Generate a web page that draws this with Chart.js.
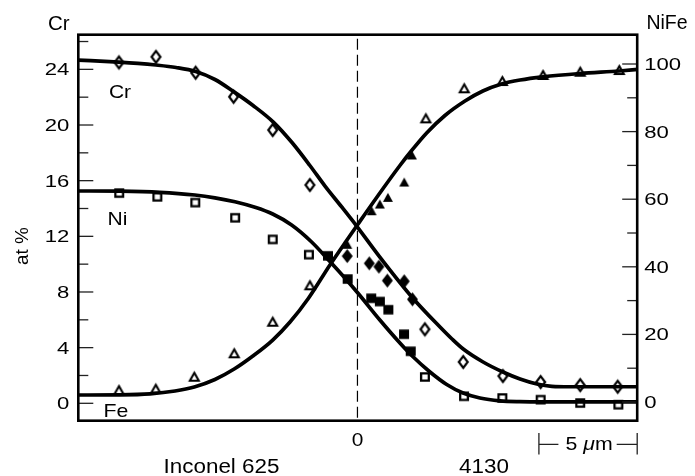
<!DOCTYPE html>
<html>
<head>
<meta charset="utf-8">
<script src="https://cdn.jsdelivr.net/npm/chart.js@4/dist/chart.umd.min.js"></script>
<style>
  html, body { margin: 0; padding: 0; background: #fff; }
  #wrap { width: 695px; height: 476px; }
</style>
</head>
<body>
<div id="wrap"><canvas id="c" width="695" height="476"></canvas></div>
<script>
// ---------- data (x in µm, Cr in at% on left axis, Ni/Fe on right axis) ----------
const crCurveX = [-14.3, -12.13, -11.17, -10.25, -9.23, -8.23, -7.25, -6.30, -5.31, -4.28, -3.33, -2.42, -1.65, -0.80, -0.04, 1.14, 2.81, 4.20, 4.81, 5.38, 6.39, 7.40, 8.27, 9.13, 9.89, 10.81, 14.3];
const crCurveY = [24.67, 24.52, 24.43, 24.31, 24.13, 23.84, 23.27, 22.40, 21.40, 20.21, 18.74, 17.09, 15.61, 14.11, 12.74, 10.51, 7.57, 5.48, 4.62, 3.90, 2.97, 2.25, 1.75, 1.39, 1.22, 1.19, 1.19];

const niCurveX = [-14.3, -12.08, -10.05, -8.27, -7.25, -6.23, -5.21, -4.31, -3.35, -2.33, -1.40, -0.64, 0.04, 1.14, 2.16, 2.84, 3.69, 4.54, 5.37, 6.23, 7.25, 8.26, 9.54, 14.3];
const niCurveY = [62.43, 62.37, 62.04, 61.24, 60.41, 59.23, 57.60, 55.62, 52.37, 47.34, 41.57, 36.69, 32.10, 24.26, 17.46, 13.31, 8.88, 5.18, 2.66, 1.18, 0.36, 0.12, 0.06, 0.06];

const feCurveX = [-14.3, -12.08, -10.55, -9.28, -8.30, -7.25, -6.27, -5.32, -4.31, -3.43, -2.50, -1.40, -0.64, -0.04, 1.14, 2.16, 2.76, 3.52, 4.45, 5.47, 6.38, 7.33, 8.27, 9.44, 11.33, 13.32, 14.3];
const feCurveY = [2.07, 2.13, 2.43, 3.25, 4.44, 6.66, 9.76, 13.61, 18.34, 23.67, 30.62, 40.53, 47.04, 52.07, 61.83, 69.97, 74.41, 79.59, 84.76, 89.05, 92.01, 94.08, 95.27, 96.21, 97.19, 97.93, 98.40];

const crOpenX = [-12.13, -10.25, -8.23, -6.30, -4.31, -2.42, 3.43, 5.38, 7.40, 9.32, 11.33, 13.24];
const crOpenY = [24.50, 24.90, 23.76, 22.03, 19.64, 15.69, 5.32, 2.97, 1.96, 1.53, 1.31, 1.19];
const crFilledX = [-0.52, 0.60, 1.09, 1.52, 2.38, 2.80];
const crFilledY = [10.58, 10.06, 9.82, 8.82, 8.77, 7.47];

const niOpenX = [-12.12, -10.18, -8.25, -6.22, -4.31, -2.47, 3.43, 5.42, 7.37, 9.32, 11.33, 13.27];
const niOpenY = [61.8, 60.7, 59.0, 54.5, 48.1, 43.6, 7.4, 1.7, 1.2, 0.7, -0.3, -0.8];
const niFilledX = [-1.50, -0.50, 0.70, 1.14, 1.57, 2.37, 2.71];
const niFilledY = [43.25, 36.39, 30.68, 29.73, 27.31, 20.06, 15.0];

const feOpenX = [-12.13, -10.26, -8.30, -6.27, -4.31, -2.42, 3.48, 5.43, 7.37, 9.44, 11.33, 13.32];
const feOpenY = [3.55, 3.93, 7.49, 14.41, 23.76, 34.53, 83.93, 92.81, 94.97, 96.75, 97.72, 98.22];
const feFilledX = [-0.52, 0.72, 1.14, 1.55, 2.38, 2.77];
const feFilledY = [46.66, 56.60, 58.58, 60.56, 65.09, 73.08];

// ticks and labels
const leftTicks = [0, 4, 8, 12, 16, 20, 24];
const leftMinorTicks = [2, 6, 10, 14, 18, 22, 26];
const rightTicks = [0, 20, 40, 60, 80, 100];
const rightMinorTicks = [10, 30, 50, 70, 90];
const xTicks = [0];
const scaleBarLength = 5; // µm
const leftTitle = 'Cr';
const rightTitle = 'NiFe';
const yTitle = 'at %';
const bottomLabels = ['Inconel 625', '4130'];
const seriesLabels = ['Cr', 'Ni', 'Fe'];

// ---------- helpers ----------
const zip = (xs, ys) => xs.map((x, i) => ({ x: x, y: ys[i] }));
const FONT = '"Liberation Sans", Arial, Helvetica, sans-serif';

function marker(shape, filled, w, h, lw) {
  const pad = 2;
  const c = document.createElement('canvas');
  c.width = Math.ceil(w + pad * 2);
  c.height = Math.ceil(h + pad * 2);
  const g = c.getContext('2d');
  const cx = c.width / 2, cy = c.height / 2;
  const ins = filled ? 0 : lw / 2;
  const hw = w / 2 - ins, hh = h / 2 - ins;
  g.beginPath();
  if (shape === 'diamond') {
    g.moveTo(cx, cy - hh); g.lineTo(cx + hw, cy); g.lineTo(cx, cy + hh); g.lineTo(cx - hw, cy); g.closePath();
  } else if (shape === 'square') {
    g.rect(cx - hw, cy - hh, hw * 2, hh * 2);
  } else {
    g.moveTo(cx, cy - hh); g.lineTo(cx + hw, cy + hh); g.lineTo(cx - hw, cy + hh); g.closePath();
  }
  g.lineJoin = 'miter';
  if (filled) { g.fillStyle = '#000'; g.fill(); }
  else { g.fillStyle = '#fff'; g.fill(); g.strokeStyle = '#000'; g.lineWidth = lw; g.stroke(); }
  return c;
}

const mk = {
  crOpen: marker('diamond', false, 11, 14, 2.2),
  crFilled: marker('diamond', true, 11, 14, 0),
  niOpen: marker('square', false, 10, 9.5, 2.3),
  niFilled: marker('square', true, 10, 9.5, 0),
  feOpen: marker('triangle', false, 11, 10, 2.1),
  feFilled: marker('triangle', true, 10, 9, 0)
};

function txt(ctx, s, x, y, size, sx, align, italic) {
  ctx.save();
  ctx.font = (italic ? 'italic ' : '') + size + 'px ' + FONT;
  ctx.fillStyle = '#000';
  ctx.translate(x, y + 0.358 * size);
  ctx.scale(sx, 1);
  ctx.textAlign = align;
  ctx.textBaseline = 'alphabetic';
  ctx.fillText(s, 0, 0);
  ctx.restore();
}

const deco = {
  id: 'deco',
  beforeDatasetsDraw(chart) {
    const ctx = chart.ctx, a = chart.chartArea, xs = chart.scales.x;
    ctx.save();
    ctx.strokeStyle = '#000';
    ctx.lineWidth = 1.2;
    ctx.setLineDash([11, 5]);
    xTicks.forEach(v => {
      const px = xs.getPixelForValue(v);
      ctx.beginPath();
      ctx.moveTo(px, a.top + 4);
      ctx.lineTo(px, a.bottom);
      ctx.stroke();
    });
    ctx.restore();
  },
  afterDatasetsDraw(chart) {
    const ctx = chart.ctx, a = chart.chartArea;
    const yl = chart.scales.yL, yr = chart.scales.yR, xs = chart.scales.x;
    ctx.save();
    // ticks (inward)
    ctx.strokeStyle = '#222';
    ctx.lineWidth = 1.3;
    const tick = (x0, x1, y) => { ctx.beginPath(); ctx.moveTo(x0, y); ctx.lineTo(x1, y); ctx.stroke(); };
    leftTicks.forEach(v => tick(a.left, a.left + 15, yl.getPixelForValue(v)));
    leftMinorTicks.forEach(v => tick(a.left, a.left + 10, yl.getPixelForValue(v)));
    rightTicks.forEach(v => tick(a.right, a.right - 15, yr.getPixelForValue(v)));
    rightMinorTicks.forEach(v => tick(a.right, a.right - 10, yr.getPixelForValue(v)));
    // frame
    ctx.strokeStyle = '#000';
    ctx.lineWidth = 2.6;
    ctx.strokeRect(a.left, a.top, a.right - a.left, a.bottom - a.top);

    // tick labels
    leftTicks.forEach(v => txt(ctx, String(v), a.left - 9, yl.getPixelForValue(v), 17, 1.3, 'right'));
    rightTicks.forEach(v => txt(ctx, String(v), a.right + 7, yr.getPixelForValue(v), 17, 1.3, 'left'));
    xTicks.forEach(v => txt(ctx, String(v), xs.getPixelForValue(v), 439, 19, 1.1, 'center'));

    // axis titles
    txt(ctx, leftTitle, 58.8, 23, 19.5, 1.05, 'center');
    txt(ctx, rightTitle, 667, 22.5, 19.5, 1.0, 'center');
    ctx.save();
    ctx.translate(22, 246);
    ctx.rotate(-Math.PI / 2);
    txt(ctx, yTitle, 0, 0, 18, 1.05, 'center');
    ctx.restore();

    // series labels inside plot
    txt(ctx, seriesLabels[0], 120, 91.7, 18.8, 1.12, 'center');
    txt(ctx, seriesLabels[1], 117.5, 218.3, 18.8, 1.12, 'center');
    txt(ctx, seriesLabels[2], 115.8, 409.7, 19, 1.12, 'center');

    // bottom labels
    txt(ctx, bottomLabels[0], 221.5, 466, 19.5, 1.15, 'center');
    txt(ctx, bottomLabels[1], 484, 466, 19.5, 1.15, 'center');

    // scale bar
    const sbL = xs.getPixelForValue(xs.max - scaleBarLength);
    const sbR = xs.getPixelForValue(xs.max);
    const sbY = 444.3;
    ctx.strokeStyle = '#222';
    ctx.lineWidth = 1.3;
    ctx.beginPath();
    ctx.moveTo(sbL, 433); ctx.lineTo(sbL, 454.5);
    ctx.moveTo(sbR, 433); ctx.lineTo(sbR, 454.5);
    ctx.moveTo(sbL, sbY); ctx.lineTo(sbL + 19.5, sbY);
    ctx.moveTo(sbR - 20.5, sbY); ctx.lineTo(sbR, sbY);
    ctx.stroke();
    // "5 µm" with italic mu
    const size = 19, sx = 1.12;
    const parts = [[scaleBarLength + ' ', false], ['\u03bc', true], ['m', false]];
    ctx.save();
    let total = 0;
    const widths = parts.map(p => { ctx.font = (p[1] ? 'italic ' : '') + size + 'px ' + FONT; const w = ctx.measureText(p[0]).width * sx; total += w; return w; });
    ctx.restore();
    let cx = (sbL + sbR) / 2 + 1 - total / 2;
    parts.forEach((p, i) => { txt(ctx, p[0], cx, 443.5, size, sx, 'left', p[1]); cx += widths[i]; });

    ctx.restore();
  }
};

const curveStyle = {
  type: 'line', showLine: true, borderColor: '#000', borderWidth: 3.7,
  pointRadius: 0, pointHoverRadius: 0, cubicInterpolationMode: 'monotone', fill: false
};
const pts = (style) => ({ showLine: false, pointStyle: style, pointRadius: 7, pointHoverRadius: 7 });

new Chart(document.getElementById('c'), {
  type: 'scatter',
  data: {
    datasets: [
      Object.assign({ label: 'Cr fit', data: zip(crCurveX, crCurveY), yAxisID: 'yL' }, curveStyle),
      Object.assign({ label: 'Ni fit', data: zip(niCurveX, niCurveY), yAxisID: 'yR' }, curveStyle),
      Object.assign({ label: 'Fe fit', data: zip(feCurveX, feCurveY), yAxisID: 'yR' }, curveStyle),
      Object.assign({ label: 'Cr', data: zip(crOpenX, crOpenY), yAxisID: 'yL' }, pts(mk.crOpen)),
      Object.assign({ label: 'Cr (4130)', data: zip(crFilledX, crFilledY), yAxisID: 'yL' }, pts(mk.crFilled)),
      Object.assign({ label: 'Ni', data: zip(niOpenX, niOpenY), yAxisID: 'yR' }, pts(mk.niOpen)),
      Object.assign({ label: 'Ni (4130)', data: zip(niFilledX, niFilledY), yAxisID: 'yR' }, pts(mk.niFilled)),
      Object.assign({ label: 'Fe', data: zip(feOpenX, feOpenY), yAxisID: 'yR' }, pts(mk.feOpen)),
      Object.assign({ label: 'Fe (4130)', data: zip(feFilledX, feFilledY), yAxisID: 'yR' }, pts(mk.feFilled))
    ]
  },
  options: {
    responsive: false,
    animation: false,
    devicePixelRatio: 1,
    layout: { padding: { left: 78.3, right: 57.8, top: 34.7, bottom: 55.3 } },
    plugins: { legend: { display: false }, tooltip: { enabled: false } },
    events: [],
    scales: {
      x: { type: 'linear', min: -14.2, max: 14.23, display: false },
      yL: { type: 'linear', position: 'left', min: -1.25, max: 26.49, display: false },
      yR: { type: 'linear', position: 'right', min: -5.53, max: 108.67, display: false }
    }
  },
  plugins: [deco]
});
</script>
</body>
</html>
